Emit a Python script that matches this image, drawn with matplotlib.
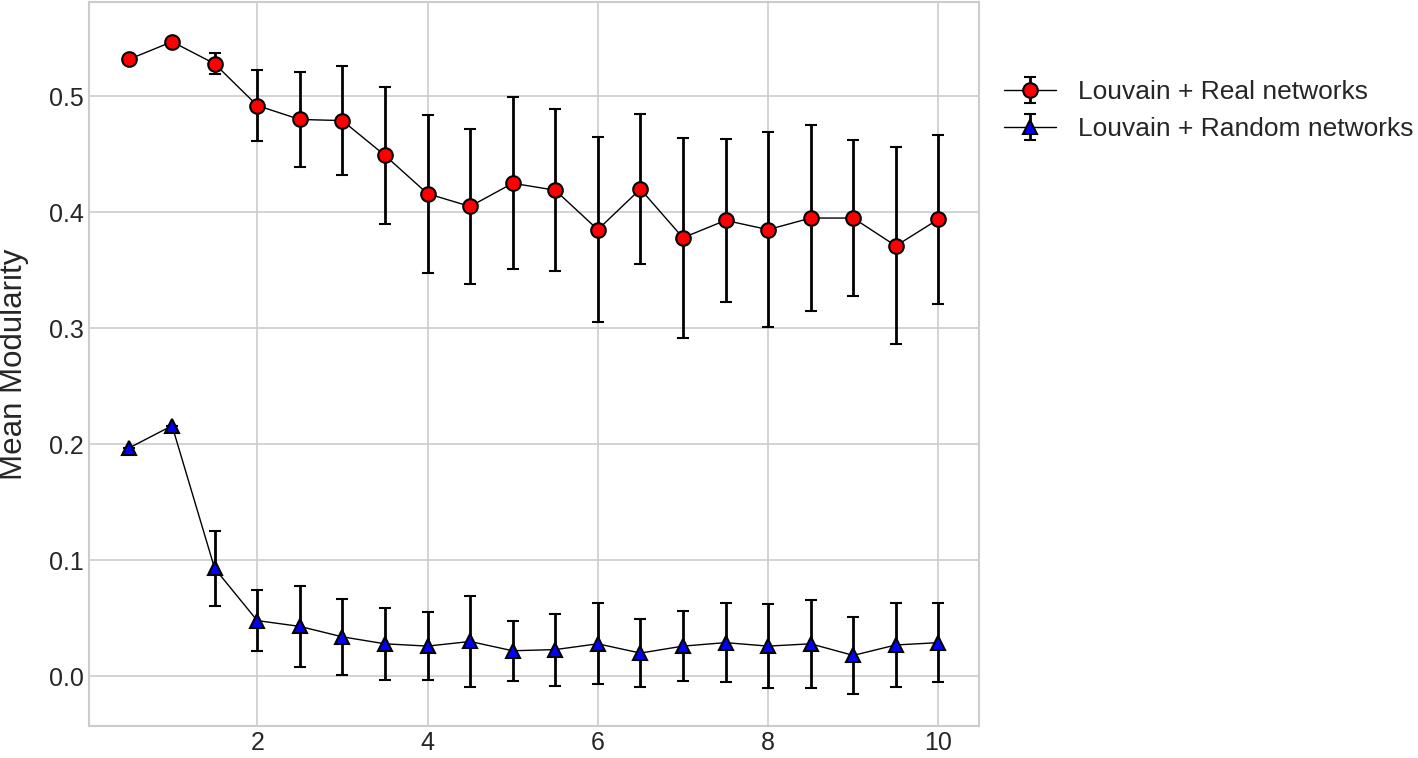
import matplotlib
matplotlib.use("Agg")
import matplotlib.pyplot as plt
import numpy as np

x = [0.5, 1.0, 1.5, 2.0, 2.5, 3.0, 3.5, 4.0, 4.5, 5.0,
     5.5, 6.0, 6.5, 7.0, 7.5, 8.0, 8.5, 9.0, 9.5, 10.0]

real_mean = [0.532, 0.547, 0.528, 0.492, 0.480, 0.479, 0.449, 0.416, 0.405, 0.425,
             0.419, 0.385, 0.420, 0.378, 0.393, 0.385, 0.395, 0.395, 0.371, 0.394]
real_err = [0.0, 0.0, 0.009, 0.031, 0.041, 0.047, 0.059, 0.068, 0.067, 0.074,
            0.070, 0.080, 0.065, 0.086, 0.070, 0.084, 0.080, 0.067, 0.085, 0.073]

rand_mean = [0.197, 0.216, 0.093, 0.048, 0.043, 0.034, 0.028, 0.026, 0.030, 0.022,
             0.023, 0.028, 0.020, 0.026, 0.029, 0.026, 0.028, 0.018, 0.027, 0.029]
rand_err = [0.0, 0.0, 0.032, 0.026, 0.035, 0.033, 0.031, 0.029, 0.039, 0.026,
            0.031, 0.035, 0.029, 0.030, 0.034, 0.036, 0.038, 0.033, 0.036, 0.034]

labels = ["Louvain + Real networks", "Louvain + Random networks"]

plt.style.use("seaborn-v0_8-whitegrid")
plt.rcParams["font.family"] = ["Liberation Sans", "DejaVu Sans"]

fig = plt.figure(figsize=(14.18, 7.58), dpi=100)
ax = fig.add_axes([0.0628, 0.042, 0.6275, 0.955])

common = dict(color="black", linewidth=1.0, markersize=10.5, markeredgewidth=1.5,
              markeredgecolor="black", ecolor="black", elinewidth=2.0,
              capsize=4, capthick=2.0)

ax.errorbar(x, real_mean, yerr=real_err, marker="o", markerfacecolor="red",
            label=labels[0], **common)
ax.errorbar(x, rand_mean, yerr=rand_err, marker="^", markerfacecolor="blue",
            label=labels[1], **common)

ax.set_xlim(0.025, 10.475)
ax.set_ylim(-0.043, 0.581)
ax.set_xticks([2, 4, 6, 8, 10])
ax.set_yticks([0.0, 0.1, 0.2, 0.3, 0.4, 0.5])
ax.tick_params(labelsize=18, colors="#262626")
ax.set_ylabel("Mean Modularity", fontsize=22.5, color="#262626")
ax.yaxis.set_label_coords(-0.068, 0.5)

for s in ax.spines.values():
    s.set_visible(True)
    s.set_color("#cccccc")
    s.set_linewidth(1.5)
ax.grid(True, color="#cccccc", linewidth=1.2)

ax.legend(loc="upper left", bbox_to_anchor=(1.016, 0.907), fontsize=19,
          frameon=False, borderaxespad=0.0, handlelength=2.0)

fig.savefig("out.png", dpi=100)
